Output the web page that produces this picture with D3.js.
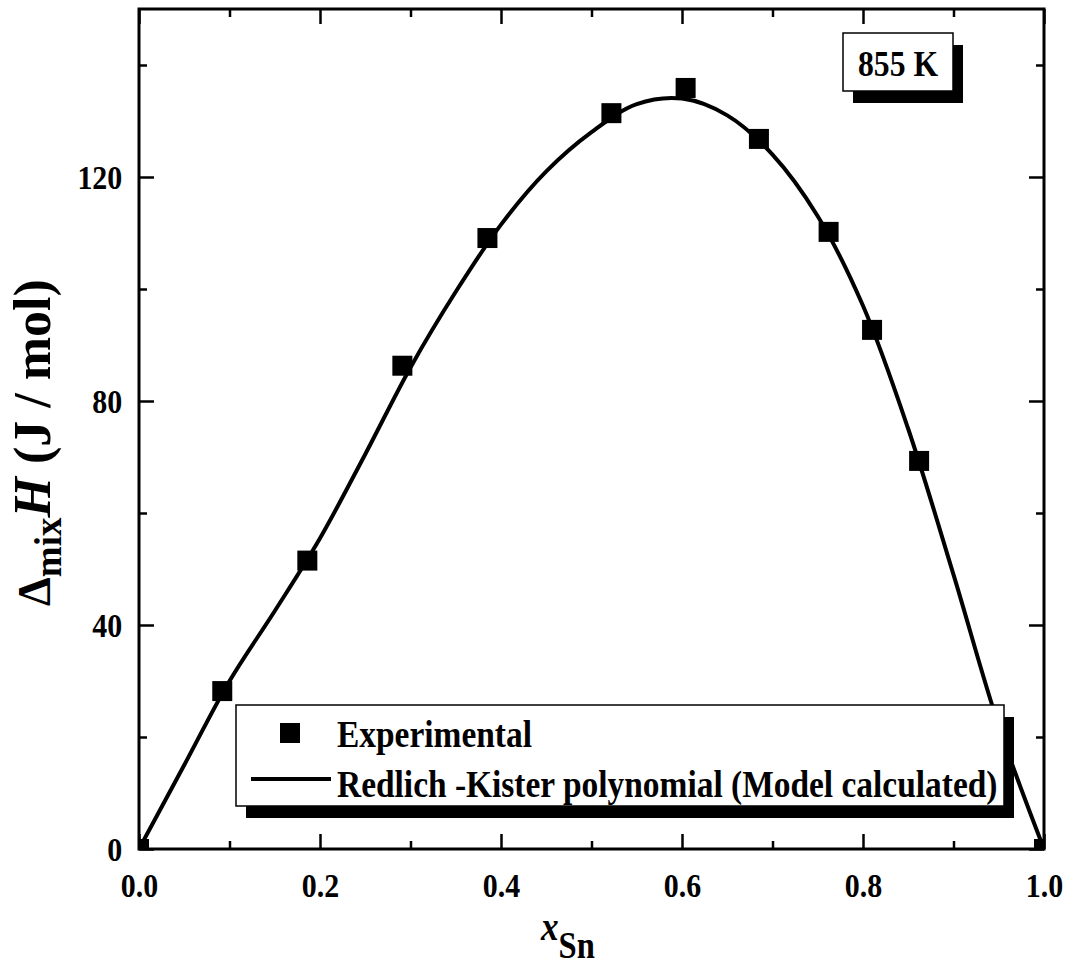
<!DOCTYPE html>
<html>
<head>
<meta charset="utf-8">
<script src="https://cdn.jsdelivr.net/npm/d3@7"></script>
<style>
  body { margin: 0; background: #fff; }
  svg text { font-family: 'Liberation Serif', 'Times New Roman', serif; font-weight: bold; fill: #000; }
</style>
</head>
<body>
<div class="container"></div>
<script>
// experimental points (x_Sn, J/mol)
const expX = [0.0, 0.092, 0.186, 0.291, 0.385, 0.522, 0.604, 0.685, 0.762, 0.810, 0.862, 0.952, 1.0]
const expY = [0, 28.2, 51.5, 86.3, 109.1, 131.4, 135.9, 126.8, 110.2, 92.7, 69.3, 20.7, 0]

// model curve
const fitX = [0.0, 0.05, 0.1, 0.15, 0.2, 0.25, 0.3, 0.35, 0.4, 0.45, 0.5, 0.55, 0.6, 0.65, 0.7, 0.75, 0.8, 0.85, 0.9, 0.95, 1.0]
const fitY = [0, 15, 30, 42.5, 55.5, 70.5, 86, 99.5, 111.5, 121, 128, 133, 134, 131, 124, 113, 97, 75, 49, 22, 0]

const xMajor = [0, 0.2, 0.4, 0.6, 0.8, 1.0]
const xMinor = [0.1, 0.3, 0.5, 0.7, 0.9]
const yMajor = [0, 40, 80, 120]
const yMinor = [20, 60, 100, 140]

const legendLabels = ['Experimental', 'Redlich -Kister polynomial (Model calculated)']
const tempLabel = '855 K'

const W = 1070
const H = 967
const plotLeft = 139
const plotRight = 1044
const plotTop = 9
const plotBottom = 849
const squeeze = 'scale(0.88,1)'

const svg = d3.select('.container').append('svg')
  .attr('width', W)
  .attr('height', H)

const x = d3.scaleLinear().domain([0, 1]).range([plotLeft, plotRight])
const y = d3.scaleLinear().domain([0, 150]).range([plotBottom, plotTop])

svg.append('clipPath').attr('id', 'plot')
  .append('rect')
  .attr('x', plotLeft).attr('y', plotTop)
  .attr('width', plotRight - plotLeft).attr('height', plotBottom - plotTop)

function styleAxis (g) {
  g.select('.domain').remove()
  g.selectAll('line').attr('stroke', '#000').attr('stroke-width', 2.5)
}

// bottom axis
svg.append('g')
  .attr('transform', 'translate(0,' + plotBottom + ')')
  .call(d3.axisBottom(x).tickValues(xMajor).tickSize(-15).tickFormat(d3.format('.1f')))
  .call(styleAxis)
  .call(g => g.selectAll('text')
    .attr('y', 48).attr('dy', null)
    .attr('font-size', 34)
    .attr('transform', squeeze))
svg.append('g')
  .attr('transform', 'translate(0,' + plotBottom + ')')
  .call(d3.axisBottom(x).tickValues(xMinor).tickSize(-8).tickFormat(''))
  .call(styleAxis)

// top axis, ticks only
svg.append('g')
  .attr('transform', 'translate(0,' + plotTop + ')')
  .call(d3.axisTop(x).tickValues(xMajor).tickSize(-15).tickFormat(''))
  .call(styleAxis)
svg.append('g')
  .attr('transform', 'translate(0,' + plotTop + ')')
  .call(d3.axisTop(x).tickValues(xMinor).tickSize(-8).tickFormat(''))
  .call(styleAxis)

// left axis
svg.append('g')
  .attr('transform', 'translate(' + plotLeft + ',0)')
  .call(d3.axisLeft(y).tickValues(yMajor).tickSize(-15))
  .call(styleAxis)
  .call(g => g.selectAll('text')
    .attr('x', -19)
    .attr('dy', '0.34em')
    .attr('font-size', 34)
    .attr('transform', squeeze))
svg.append('g')
  .attr('transform', 'translate(' + plotLeft + ',0)')
  .call(d3.axisLeft(y).tickValues(yMinor).tickSize(-8).tickFormat(''))
  .call(styleAxis)

// right axis, ticks only
svg.append('g')
  .attr('transform', 'translate(' + plotRight + ',0)')
  .call(d3.axisRight(y).tickValues(yMajor).tickSize(-15).tickFormat(''))
  .call(styleAxis)
svg.append('g')
  .attr('transform', 'translate(' + plotRight + ',0)')
  .call(d3.axisRight(y).tickValues(yMinor).tickSize(-8).tickFormat(''))
  .call(styleAxis)

// frame
svg.append('rect')
  .attr('x', plotLeft).attr('y', plotTop)
  .attr('width', plotRight - plotLeft).attr('height', plotBottom - plotTop)
  .attr('fill', 'none')
  .attr('stroke', '#000')
  .attr('stroke-width', 3)

// model line
const fit = fitX.map((v, i) => ({ x: v, y: fitY[i] }))
const line = d3.line()
  .x(d => x(d.x))
  .y(d => y(d.y))
  .curve(d3.curveCatmullRom.alpha(0.5))

const plot = svg.append('g').attr('clip-path', 'url(#plot)')
plot.append('path')
  .attr('d', line(fit))
  .attr('fill', 'none')
  .attr('stroke', '#000')
  .attr('stroke-width', 4)

// experimental squares
const sq = 20
plot.selectAll('rect.pt')
  .data(expX.map((v, i) => ({ x: v, y: expY[i] })))
  .join('rect')
  .attr('class', 'pt')
  .attr('x', d => x(d.x) - sq / 2)
  .attr('y', d => y(d.y) - sq / 2)
  .attr('width', sq)
  .attr('height', sq)
  .attr('fill', '#000')

// legend
const lg = { x: 236, y: 705, w: 768, h: 101 }
svg.append('rect')
  .attr('x', lg.x + 10).attr('y', lg.y + 12)
  .attr('width', lg.w).attr('height', lg.h)
  .attr('fill', '#000')
svg.append('rect')
  .attr('x', lg.x).attr('y', lg.y)
  .attr('width', lg.w).attr('height', lg.h)
  .attr('fill', '#fff')
  .attr('stroke', '#000')
  .attr('stroke-width', 1.5)
svg.append('rect')
  .attr('x', 280).attr('y', 723)
  .attr('width', sq).attr('height', sq)
  .attr('fill', '#000')
svg.append('line')
  .attr('x1', 251).attr('x2', 331)
  .attr('y1', 779).attr('y2', 779)
  .attr('stroke', '#000')
  .attr('stroke-width', 4)
legendLabels.forEach(function (t, i) {
  svg.append('text')
    .attr('transform', 'translate(337,' + (747 + i * 50) + ') ' + squeeze)
    .attr('font-size', 38)
    .text(t)
})

// temperature box
const tb = { x: 843, y: 33, w: 110, h: 58 }
svg.append('rect')
  .attr('x', tb.x + 10).attr('y', tb.y + 12)
  .attr('width', tb.w).attr('height', tb.h)
  .attr('fill', '#000')
svg.append('rect')
  .attr('x', tb.x).attr('y', tb.y)
  .attr('width', tb.w).attr('height', tb.h)
  .attr('fill', '#fff')
  .attr('stroke', '#000')
  .attr('stroke-width', 1.5)
svg.append('text')
  .attr('transform', 'translate(' + (tb.x + tb.w / 2) + ',76) ' + squeeze)
  .attr('text-anchor', 'middle')
  .attr('font-size', 36)
  .text(tempLabel)

// y title
const yt = svg.append('text')
  .attr('transform', 'translate(50,606) rotate(-90)')
  .attr('font-size', 52)
yt.append('tspan').attr('font-size', 46).text('\u0394')
yt.append('tspan').attr('font-size', 37).attr('dy', 11).text('mix')
yt.append('tspan').attr('font-style', 'italic').attr('dy', -11).text('H')
yt.append('tspan').text(' (J / mol)')

// x title
const xt = svg.append('text')
  .attr('transform', 'translate(541,940) ' + squeeze)
  .attr('font-size', 40)
xt.append('tspan').attr('font-style', 'italic').text('x')
xt.append('tspan').attr('font-size', 37).attr('dy', 18).text('Sn')
</script>
</body>
</html>
